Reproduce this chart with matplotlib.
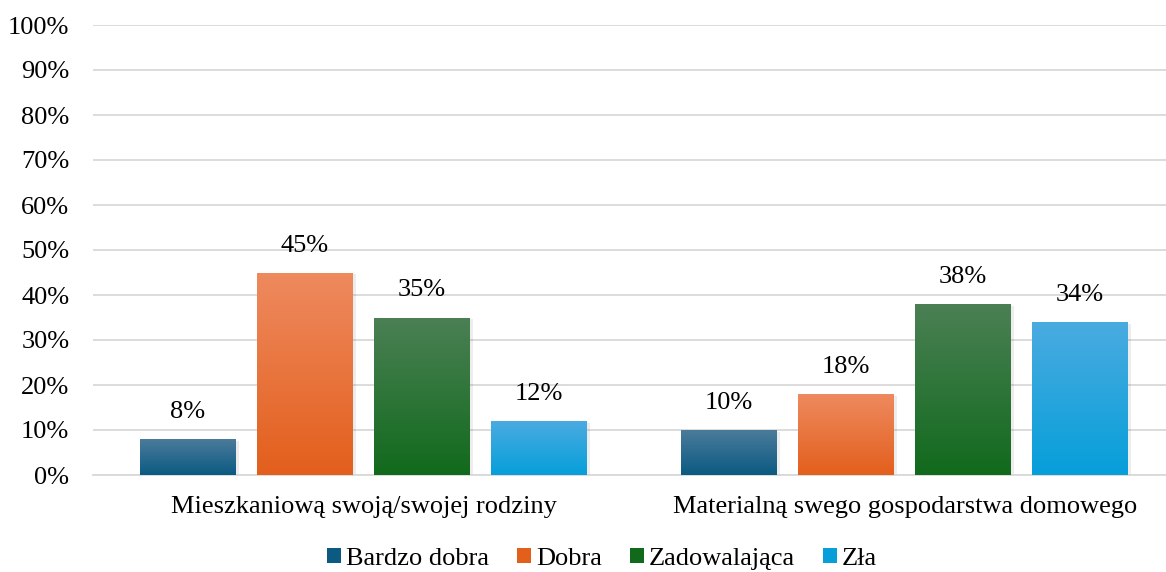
import matplotlib.pyplot as plt
import matplotlib.colors as mcolors
from matplotlib.patches import Patch
import numpy as np

plt.rcParams['font.family'] = ['Liberation Serif', 'DejaVu Serif']

categories = ["Mieszkaniową swoją/swojej rodziny", "Materialną swego gospodarstwa domowego"]
series = ["Bardzo dobra", "Dobra", "Zadowalająca", "Zła"]
values = [
    [8, 10],   # Bardzo dobra
    [45, 18],  # Dobra
    [35, 38],  # Zadowalająca
    [12, 34],  # Zła
]
# gradient (top, bottom) per series
grad_colors = [
    ("#4b7b9b", "#0b5a82"),
    ("#ee8a5f", "#e35f1c"),
    ("#4b8055", "#116a1c"),
    ("#4aabe0", "#069fda"),
]

fs = 19

fig = plt.figure(figsize=(11.66, 5.72), dpi=100)
ax = fig.add_axes([93 / 1166, 1 - 475 / 572, 1 - 93 / 1166, 450 / 572])

x = np.arange(len(categories))
w = 0.177
step = 0.2163

for i, name in enumerate(series):
    top, bottom = grad_colors[i]
    cmap = mcolors.LinearSegmentedColormap.from_list("g%d" % i, [bottom, top])
    xs = x + (i - 1.5) * step
    bars = ax.bar(xs, values[i], w, color=bottom, zorder=3, linewidth=0)
    for b, v in zip(bars, values[i]):
        bx, by = b.get_x(), b.get_y()
        bw, bh = b.get_width(), b.get_height()
        # soft shadow
        ax.bar(bx + bw / 2 + 0.003, bh, bw + 0.006, bottom=-0.4, color="#000000",
               alpha=0.07, zorder=2, linewidth=0)
        grad = np.linspace(0, 1, 256).reshape(-1, 1)
        im = ax.imshow(grad, cmap=cmap, aspect="auto", origin="lower",
                       extent=[bx, bx + bw, by, by + bh], zorder=4)
        im.set_clip_path(b)
        ax.text(bx + bw / 2, v + 6, "%d%%" % v, ha="center", va="center",
                fontsize=fs, color="#000000", zorder=5)

ax.set_xlim(-0.5, 1.483)
ax.set_ylim(0, 100)
ax.set_yticks(np.arange(0, 101, 10))
ax.set_yticklabels(["%d%%" % t for t in range(0, 101, 10)], fontsize=fs)
ax.set_xticks(x)
ax.set_xticklabels(categories, fontsize=fs)
ax.tick_params(axis="y", length=0, pad=17)
ax.tick_params(axis="x", length=0, pad=15)
ax.yaxis.grid(True, color="#d9d9d9", linewidth=1.3, zorder=0)
ax.set_axisbelow(True)
for s in ["top", "right", "left"]:
    ax.spines[s].set_visible(False)
ax.spines["bottom"].set_color("#d9d9d9")
ax.spines["bottom"].set_linewidth(1.3)

handles = [Patch(facecolor=c[1], edgecolor="none") for c in grad_colors]
fig.legend(handles, series, loc="center", bbox_to_anchor=(602 / 1166, 1 - 559 / 572),
           ncol=4, frameon=False, fontsize=fs, handlelength=0.53, handleheight=0.53,
           handletextpad=0.2, columnspacing=1.05)

fig.savefig("out.png", dpi=100)
